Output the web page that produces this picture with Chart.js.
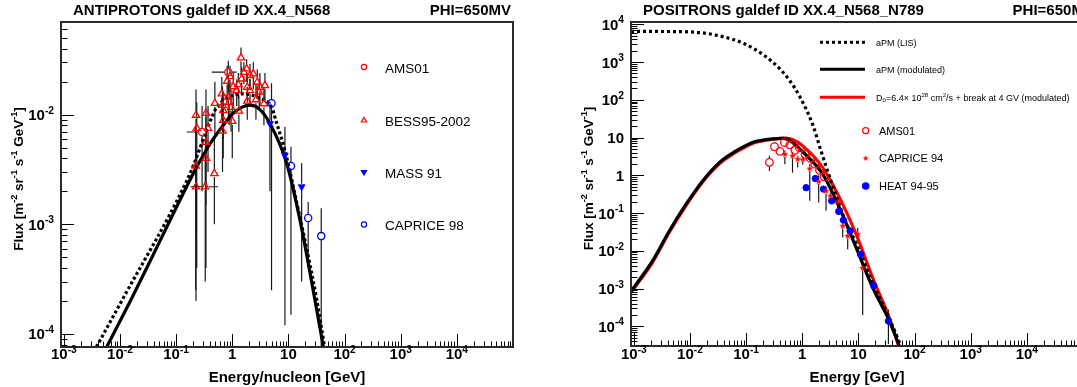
<!DOCTYPE html>
<html><head><meta charset="utf-8">
<script src="https://cdn.jsdelivr.net/npm/chart.js@4.4.0/dist/chart.umd.min.js"></script>
<style>
html,body{margin:0;padding:0;background:#fff;overflow:hidden;width:1077px;height:387px;position:relative}
#c1{position:absolute;left:0;top:0}
#c2{position:absolute;left:540px;top:0}
</style></head><body>
<canvas id="c1" width="540" height="387"></canvas>
<canvas id="c2" width="560" height="387"></canvas>
<script>
// ================= DATA =================
// axis decades (tick labels are 10^n)
const xDecades = [-3,-2,-1,0,1,2,3,4];
const apYDecades = [-4,-3,-2];
const epYDecades = [-4,-3,-2,-1,0,1,2,3,4];

// ---- antiprotons: model curves ----
const apModE = [0.0058,0.0157,0.035,0.078,0.233,0.4,0.69,1.0,1.5,2.06,3.0,4.69,9.3,16,29.6,42];
const apModF = [7.6e-5,2.05e-4,4.7e-4,1.09e-3,3.34e-3,5.4e-3,8.0e-3,1.01e-2,1.17e-2,1.22e-2,1.13e-2,8.3e-3,3.6e-3,1.1e-3,2.05e-4,7.6e-5];
const apAltE = [0.0038,0.011,0.155,0.219,0.35,0.53,0.9,1.6,3.0,5.0,6.2,8.7,12.2,32,44];
const apAltF = [7.6e-5,2.05e-4,2.5e-3,3.8e-3,7.2e-3,1.17e-2,1.45e-2,1.55e-2,1.42e-2,1.17e-2,8.3e-3,4.7e-3,2.2e-3,2.05e-4,7.6e-5];

// ---- antiprotons: data ----
const bessE  = [1.43,0.91,1.61,1.8,2.07,1.47,2.37,2.79,0.81,1.04,1.28,1.2,1.85,3.11,3.82,3.02,2.07,0.65,0.67,0.85,0.88,0.49,0.69,0.95,1.31,1.85,2.64,3.66,0.34,0.226,0.69,1.0,0.233,0.37,0.67,0.34,0.34,0.223,0.48,0.226,0.33];
const bessF  = [0.033,0.0223,0.0244,0.0262,0.0228,0.0212,0.0236,0.0198,0.0202,0.018,0.0188,0.0166,0.0178,0.0178,0.0184,0.0161,0.0166,0.0155,0.0122,0.0145,0.013,0.0127,0.0109,0.0117,0.0108,0.0133,0.0137,0.0126,0.0103,0.0099,0.0089,0.0087,0.0075,0.0075,0.0071,0.0056,0.0040,0.0034,0.0029,0.0022,0.0022];
const bessLo = [0.0244,0.016,0.019,0.02,0.017,0.016,0.017,0.014,0.013,0.012,0.014,0.012,0.013,0.012,0.013,0.011,0.012,0.009,0.007,0.009,0.008,0.006,0.006,0.007,0.007,0.009,0.009,0.008,0.004,0.0008,0.004,0.004,0.0004,0.003,0.003,0.0015,0.0004,0.00025,0.001,0.0002,0.0003];
const bessHi = [0.041,0.028,0.03,0.032,0.029,0.027,0.03,0.026,0.028,0.024,0.024,0.021,0.023,0.024,0.024,0.021,0.021,0.022,0.018,0.02,0.019,0.02,0.016,0.017,0.015,0.018,0.019,0.018,0.017,0.017,0.014,0.013,0.013,0.012,0.012,0.011,0.008,0.008,0.006,0.005,0.005];
const bessXLo = {40:0.18};
const bessXHi = {40:0.56};
const amsApE  = [0.29,0.85];
const amsApF  = [6.95e-3,0.0244];
const amsApLo = [0.002,0.017];
const amsApHi = [0.012,0.031];
const amsApXLo = [0.155,0.43];
const amsApXHi = [0.33,1.2];
const massE  = [4.69,8.67,17.2];
const massF  = [8.3e-3,4.27e-3,2.2e-3];
const massLo = [2e-3,1.2e-4,3e-4];
const massHi = [0.013,7.7e-3,3.6e-3];
const capApE  = [5.0,11.1,22.5,38.4];
const capApF  = [0.0127,3.41e-3,1.14e-3,7.8e-4];
const capApLo = [2.5e-4,1.5e-4,5e-4,7.6e-5];
const capApHi = [0.0193,5.1e-3,1.6e-3,1.4e-3];

// ---- positrons: model curves ----
const epLisE = [8.9e-4,0.003,0.01,0.0343,0.0955,0.217,0.402,0.605,0.912,1.55,2.1,3.53,6.4,9.1,18,35.6,56];
const epLisF = [6.5e3,6.45e3,6.3e3,4.9e3,3.0e3,1.44e3,650,314,118,21,5.0,0.49,0.045,0.016,1.4e-3,1.6e-4,3.2e-5];
const epModE = [8.9e-4,2.15e-3,4.28e-3,8.5e-3,0.0168,0.0333,0.066,0.13,0.172,0.3,0.45,0.6,1.02,2.31,4.58,9.1,18.0,35.6,53.7];
const epModF = [8.4e-4,5.4e-3,0.0335,0.171,0.71,2.17,4.4,7.4,8.2,9.2,9.5,8.3,4.2,1.07,0.139,0.0121,1.05e-3,1.38e-4,3.0e-5];
const epRedE = [8.9e-4,2.15e-3,4.28e-3,8.5e-3,0.0168,0.0333,0.066,0.13,0.3,0.5,0.7,1.02,2.31,4.58,9.1,18.0,35.6,52];
const epRedF = [7.8e-4,4.9e-3,0.031,0.158,0.66,2.0,4.1,7.0,9.0,9.6,8.6,6.0,1.6,0.26,0.0275,1.9e-3,1.65e-4,3.0e-5];

// ---- positrons: data ----
const amsEpE  = [0.26,0.32,0.40,0.48,0.60,0.74,0.89,1.12,1.39,1.67,2.03,2.46];
const amsEpF  = [2.2,5.7,4.3,7.4,6.4,4.6,5.4,3.6,2.8,1.97,1.36,0.91];
const amsEpLo = [1.3,4.9,3.7,6.6,5.7,4.0,4.8,3.2,2.5,1.75,1.2,0.8];
const amsEpHi = [3.3,6.5,4.9,8.2,7.1,5.2,6.0,4.0,3.1,2.2,1.52,1.02];
const capEpE  = [0.49,0.67,0.83,1.02,1.36,1.96,2.65,3.17,4.28,5.25,6.44,9.7,11.9];
const capEpF  = [3.6,3.27,2.67,2.6,1.5,0.68,0.385,0.284,0.2,0.0455,0.0247,0.0275,3.5e-3];
const capEpLo = [1.97,1.17,1.6,1.9,0.21,0.19,0.115,0.2,0.13,0.0223,0.011,0.018,2.0e-4];
const capEpHi = [4.5,4.2,3.3,3.2,2.0,1.0,0.5,0.35,0.26,0.065,0.035,0.04,5e-3];
const heatE  = [1.17,1.71,2.38,3.34,4.46,5.4,7.1,10.9,18.7,34.2];
const heatF  = [0.47,0.82,0.43,0.21,0.11,0.065,0.0335,8.1e-3,1.2e-3,1.37e-4];
const heatLo = [0.42,0.74,0.39,0.19,0.098,0.057,0.029,6.8e-3,9.5e-4,3.4e-5];
const heatHi = [0.52,0.9,0.47,0.23,0.122,0.073,0.038,9.5e-3,1.5e-3,2.8e-4];

// legends / titles
const apLegendNames = ['AMS01','BESS95-2002','MASS 91','CAPRICE 98'];
const epLegendNames = ['aPM (LIS)','aPM (modulated)','AMS01','CAPRICE 94','HEAT 94-95'];

// ================= HELPERS =================
const FONT = '"Liberation Sans", Arial, Helvetica, sans-serif';
const RED = '#ff0000', BLUE = '#0000ff';

function pts(E, F, lo, hi, xlo, xhi){
  return E.map((e,i)=>{
    const p = {x:e, y:F[i]};
    if (lo) p.yMin = lo[i];
    if (hi) p.yMax = hi[i];
    if (xlo && xlo[i] != null) p.xMin = xlo[i];
    if (xhi && xhi[i] != null) p.xMax = xhi[i];
    return p;
  });
}
function starImg(r, color){
  const s = Math.ceil(2*r+2);
  const c = document.createElement('canvas'); c.width = s; c.height = s;
  const g = c.getContext('2d'); g.fillStyle = color; g.beginPath();
  for (let i=0;i<10;i++){
    const a = -Math.PI/2 + i*Math.PI/5, rr = (i%2) ? r*0.42 : r;
    g.lineTo(s/2 + rr*Math.cos(a), s/2 + rr*Math.sin(a));
  }
  g.closePath(); g.fill();
  return c;
}
const STAR = starImg(3.6, RED);
const STAR_LEG = starImg(3.2, RED);

function fontStr(sz, bold){ return (bold?'bold ':'') + sz + 'px ' + FONT; }
function richWidth(ctx, segs, fs, bold){
  let w = 0;
  segs.forEach(s=>{ ctx.font = fontStr((s.sup||s.sub)?fs*0.68:fs, bold); w += ctx.measureText(s.t).width; });
  return w;
}
function drawRich(ctx, segs, x, y, fs, bold, align){
  const w = richWidth(ctx, segs, fs, bold);
  let cx = align==='right' ? x-w : align==='center' ? x-w/2 : x;
  ctx.textAlign = 'left'; ctx.textBaseline = 'alphabetic';
  segs.forEach(s=>{
    const sz = (s.sup||s.sub) ? fs*0.68 : fs;
    ctx.font = fontStr(sz, bold);
    const dy = s.sup ? -fs*0.42 : s.sub ? fs*0.22 : 0;
    ctx.fillText(s.t, cx, y+dy);
    cx += ctx.measureText(s.t).width;
  });
}
function powSegs(e){
  if (e === 0) return [{t:'1'}];
  if (e === 1) return [{t:'10'}];
  return [{t:'10'},{t:String(e),sup:true}];
}

function drawErrorBars(chart){
  const ctx = chart.ctx, xs = chart.scales.x, ys = chart.scales.y, a = chart.chartArea;
  ctx.save();
  ctx.beginPath(); ctx.rect(a.left, a.top, a.right-a.left, a.bottom-a.top); ctx.clip();
  chart.data.datasets.forEach(ds=>{
    if (!ds.errorBars) return;
    const gap = ds.errGap || 3;
    ctx.strokeStyle = '#1a1a1a'; ctx.lineWidth = 1.2;
    ds.data.forEach(p=>{
      const px = xs.getPixelForValue(p.x), py = ys.getPixelForValue(p.y);
      ctx.beginPath();
      if (p.yMax != null){ const t = ys.getPixelForValue(p.yMax); if (t < py-gap){ ctx.moveTo(px, py-gap); ctx.lineTo(px, t); } }
      if (p.yMin != null){ const b = ys.getPixelForValue(p.yMin); if (b > py+gap){ ctx.moveTo(px, py+gap); ctx.lineTo(px, b); } }
      if (p.xMin != null){ const l = xs.getPixelForValue(p.xMin); if (l < px-gap){ ctx.moveTo(px-gap, py); ctx.lineTo(l, py); } }
      if (p.xMax != null){ const r = xs.getPixelForValue(p.xMax); if (r > px+gap){ ctx.moveTo(px+gap, py); ctx.lineTo(r, py); } }
      ctx.stroke();
    });
  });
  ctx.restore();
}

function drawAxes(chart, cfg){
  const ctx = chart.ctx, xs = chart.scales.x, ys = chart.scales.y, a = chart.chartArea;
  ctx.save();
  ctx.strokeStyle = '#000'; ctx.lineWidth = 1;
  for (let d=-6; d<=5; d++){
    for (let m=1; m<=9; m++){
      const v = m*Math.pow(10,d);
      if (v >= xs.min*0.999 && v <= xs.max*1.001){
        const px = Math.round(xs.getPixelForValue(v)) + 0.5;
        const len = m===1 ? 13 : 5.5;
        ctx.beginPath(); ctx.moveTo(px, a.bottom); ctx.lineTo(px, a.bottom-len); ctx.stroke();
      }
      if (v >= ys.min*0.999 && v <= ys.max*1.001){
        const py = Math.round(ys.getPixelForValue(v)) + 0.5;
        const len = m===1 ? 13 : 6.5;
        ctx.beginPath(); ctx.moveTo(a.left, py); ctx.lineTo(a.left+len, py); ctx.stroke();
      }
    }
  }
  ctx.strokeStyle = '#2a2a2a'; ctx.lineWidth = 2;
  ctx.strokeRect(a.left, a.top, a.right-a.left, a.bottom-a.top);

  ctx.fillStyle = '#000';
  cfg.xDec.forEach(e=>{ drawRich(ctx, powSegs(e), xs.getPixelForValue(Math.pow(10,e)), 359, 15, true, 'center'); });
  cfg.yDec.forEach(e=>{ drawRich(ctx, powSegs(e), a.left-7, ys.getPixelForValue(Math.pow(10,e))+5.5, 15, true, 'right'); });
  drawRich(ctx, [{t:cfg.xTitle}], (a.left+a.right)/2, 382, 15, true, 'center');
  ctx.save(); ctx.translate(cfg.yTitleX, cfg.yTitleY); ctx.rotate(-Math.PI/2);
  drawRich(ctx, [{t:'Flux [m'},{t:'-2',sup:1},{t:' sr'},{t:'-1',sup:1},{t:' s'},{t:'-1',sup:1},{t:' GeV'},{t:'-1',sup:1},{t:']'}], 0, 0, 13.5, true, 'center');
  ctx.restore();
  drawRich(ctx, [{t:cfg.title}], cfg.titleX, 15, 15, true, 'left');
  drawRich(ctx, [{t:'PHI=650MV'}], cfg.phiX, 15, 15, true, cfg.phiAlign);
  ctx.restore();
}

function legendPoint(ctx, style, r, rot, fill, stroke, x, y){
  ctx.save();
  ctx.fillStyle = fill; ctx.strokeStyle = stroke; ctx.lineWidth = 1.2;
  Chart.helpers.drawPoint(ctx, {pointStyle:style, radius:r, rotation:rot, borderWidth:1.2}, x, y);
  ctx.restore();
}

function baseOptions(xmin, xmax, ymin, ymax, pad){
  return {
    responsive:false, animation:false, events:[],
    layout:{padding:pad},
    plugins:{legend:{display:false}, tooltip:{enabled:false}, title:{display:false}},
    scales:{
      x:{type:'logarithmic', min:xmin, max:xmax, display:false},
      y:{type:'logarithmic', min:ymin, max:ymax, display:false}
    }
  };
}
function curve(E, F, color, width, dash, order){
  return {data:pts(E,F), showLine:true, pointRadius:0, borderColor:color, backgroundColor:color,
          borderWidth:width, borderDash:dash||[], fill:false, cubicInterpolationMode:'monotone', order:order};
}

// ================= LEFT: ANTIPROTONS =================
const leftPlugin = {
  id:'leftPanel',
  beforeDatasetsDraw(chart){ drawErrorBars(chart); },
  afterDraw(chart){
    drawAxes(chart, {xDec:xDecades, yDec:apYDecades, xTitle:'Energy/nucleon [GeV]', yTitleX:23, yTitleY:179,
                     title:'ANTIPROTONS galdef ID XX.4_N568', titleX:73, phiX:511, phiAlign:'right'});
    const ctx = chart.ctx;
    const lx = 364, tx = 385, ly = [67, 120, 172.5, 224.5];
    legendPoint(ctx, 'circle', 2.6, 0, 'rgba(0,0,0,0)', RED, lx, ly[0]);
    legendPoint(ctx, 'triangle', 3, 0, 'rgba(0,0,0,0)', RED, lx, ly[1]+0.5);
    legendPoint(ctx, 'triangle', 3, 180, BLUE, BLUE, lx, ly[2]-0.5);
    legendPoint(ctx, 'circle', 2.6, 0, 'rgba(0,0,0,0)', BLUE, lx, ly[3]);
    ctx.fillStyle = '#000';
    apLegendNames.forEach((n,i)=> drawRich(ctx, [{t:n}], tx, ly[i]+5.5, 13.5, false, 'left'));
  }
};
new Chart(document.getElementById('c1'), {
  type:'scatter',
  data:{datasets:[
    {label:'BESS95-2002', data:pts(bessE,bessF,bessLo,bessHi,bessE.map((e,i)=>bessXLo[i]),bessE.map((e,i)=>bessXHi[i])),
     pointStyle:'triangle', pointRadius:4.2, borderColor:RED, backgroundColor:'rgba(0,0,0,0)', borderWidth:1.3,
     errorBars:true, errGap:3.5, order:1},
    {label:'AMS01', data:pts(amsApE,amsApF,amsApLo,amsApHi,amsApXLo,amsApXHi),
     pointStyle:'circle', pointRadius:3.6, borderColor:RED, backgroundColor:'rgba(0,0,0,0)', borderWidth:1.3,
     errorBars:true, errGap:3.6, order:0},
    {label:'MASS 91', data:pts(massE,massF,massLo,massHi),
     pointStyle:'triangle', rotation:180, pointRadius:3.8, borderColor:BLUE, backgroundColor:BLUE, borderWidth:1,
     errorBars:true, errGap:3, order:0},
    {label:'CAPRICE 98', data:pts(capApE,capApF,capApLo,capApHi),
     pointStyle:'circle', pointRadius:3.6, borderColor:BLUE, backgroundColor:'rgba(0,0,0,0)', borderWidth:1.3,
     errorBars:true, errGap:3.6, order:0},
    curve(apAltE, apAltF, '#000', 3.2, [3,2.5], 4),
    curve(apModE, apModF, '#000', 3.2, null, 5)
  ]},
  options: baseOptions(8.9e-4, 1e5, 7.6e-5, 0.07, {left:61, top:22, right:27, bottom:40}),
  plugins:[leftPlugin]
});

// ================= RIGHT: POSITRONS =================
const rightPlugin = {
  id:'rightPanel',
  beforeDatasetsDraw(chart){ drawErrorBars(chart); },
  afterDraw(chart){
    drawAxes(chart, {xDec:xDecades, yDec:epYDecades, xTitle:'Energy [GeV]', yTitleX:53, yTitleY:178.5,
                     title:'POSITRONS galdef ID XX.4_N568_N789', titleX:103, phiX:472.6, phiAlign:'left'});
    const ctx = chart.ctx;
    ctx.save();
    ctx.lineWidth = 3;
    ctx.strokeStyle = '#000'; ctx.setLineDash([3,3]);
    ctx.beginPath(); ctx.moveTo(280, 42.3); ctx.lineTo(325, 42.3); ctx.stroke();
    ctx.setLineDash([]);
    ctx.beginPath(); ctx.moveTo(280, 69.3); ctx.lineTo(325, 69.3); ctx.stroke();
    ctx.strokeStyle = RED;
    ctx.beginPath(); ctx.moveTo(280, 97.3); ctx.lineTo(325, 97.3); ctx.stroke();
    ctx.restore();
    ctx.fillStyle = '#000';
    drawRich(ctx, [{t:epLegendNames[0]}], 336, 45.5, 9, false, 'left');
    drawRich(ctx, [{t:epLegendNames[1]}], 336, 72.5, 9, false, 'left');
    drawRich(ctx, [{t:'D'},{t:'0',sub:1},{t:'=6.4\u00d7 10'},{t:'28',sup:1},{t:' cm'},{t:'2',sup:1},{t:'/s + break at 4 GV (modulated)'}], 336, 100.5, 9, false, 'left');
    legendPoint(ctx, 'circle', 3, 0, 'rgba(0,0,0,0)', RED, 325.7, 130.7);
    legendPoint(ctx, STAR_LEG, 3, 0, RED, RED, 325.7, 158.3);
    legendPoint(ctx, 'circle', 3.2, 0, BLUE, BLUE, 325.7, 186);
    ctx.fillStyle = '#000';
    drawRich(ctx, [{t:epLegendNames[2]}], 339, 134.5, 11, false, 'left');
    drawRich(ctx, [{t:epLegendNames[3]}], 339, 162.3, 11, false, 'left');
    drawRich(ctx, [{t:epLegendNames[4]}], 339, 190, 11, false, 'left');
  }
};
new Chart(document.getElementById('c2'), {
  type:'scatter',
  data:{datasets:[
    {label:'AMS01', data:pts(amsEpE,amsEpF,amsEpLo,amsEpHi),
     pointStyle:'circle', pointRadius:3.8, borderColor:RED, backgroundColor:'rgba(0,0,0,0)', borderWidth:1.3,
     errorBars:true, errGap:3.8, order:1},
    {label:'CAPRICE 94', data:pts(capEpE,capEpF,capEpLo,capEpHi),
     pointStyle:STAR, pointRadius:3.6, borderColor:RED, backgroundColor:RED, borderWidth:0,
     errorBars:true, errGap:2.5, order:0},
    {label:'HEAT 94-95', data:pts(heatE,heatF,heatLo,heatHi),
     pointStyle:'circle', pointRadius:3.2, borderColor:BLUE, backgroundColor:BLUE, borderWidth:1,
     errorBars:true, errGap:3.2, order:0},
    curve(epLisE, epLisF, '#000', 3.2, [3,3], 3),
    curve(epModE, epModF, '#000', 3.2, null, 4),
    curve(epRedE, epRedF, RED, 3.2, null, 5)
  ]},
  options: baseOptions(8.9e-4, 1e5, 3e-5, 1.15e4, {left:91, top:22, right:17, bottom:41}),
  plugins:[rightPlugin]
});
</script>
</body></html>
